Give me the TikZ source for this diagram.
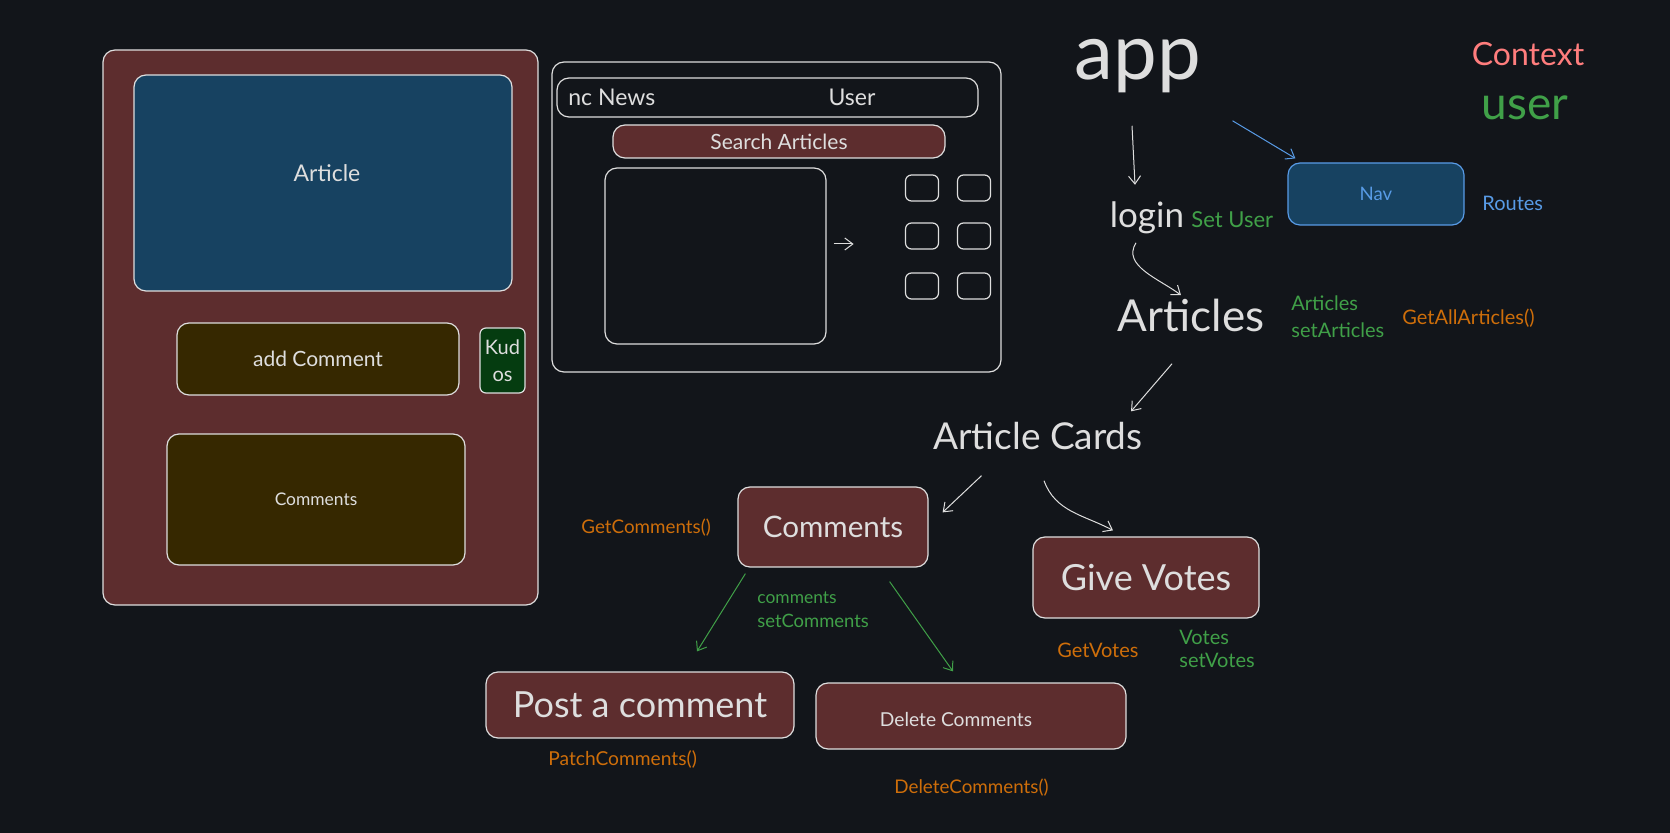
\documentclass[tikz,border=0pt]{standalone}
\usepackage{fontspec}
\setmainfont{Lato}
\usetikzlibrary{arrows.meta}

\definecolor{canvas}{RGB}{18,21,26}
\definecolor{chalk}{RGB}{222,222,222}
\definecolor{brick}{RGB}{93,45,46}
\definecolor{navy}{RGB}{23,66,97}
\definecolor{mud}{RGB}{54,40,0}
\definecolor{moss}{RGB}{5,60,16}
\definecolor{leaf}{RGB}{64,160,72}
\definecolor{amber}{RGB}{206,110,10}
\definecolor{sky}{RGB}{88,155,230}
\definecolor{salmon}{RGB}{255,125,125}

\newcommand{\fsz}[1]{\fontsize{#1}{#1}\selectfont}

\tikzset{
  box/.style={draw=chalk, line width=0.6pt, rounded corners=6pt, inner sep=0pt, text=chalk},
  txt/.style={text=chalk, inner sep=2pt},
  note/.style={text=leaf, anchor=west, inner sep=0pt, font=\fsz{10pt}},
  call/.style={text=amber, anchor=west, inner sep=0pt, font=\fsz{10pt}},
  arr/.style={draw=chalk, line width=0.5pt, -{Straight Barb[length=4pt,width=6pt]}},
  garr/.style={arr, draw=leaf},
  barr/.style={arr, draw=sky},
  tile/.style={box, rounded corners=3pt, minimum width=16.5pt, minimum height=13pt},
}

\begin{document}
\begin{tikzpicture}[x=0.5pt, y=0.5pt]
	\fill[canvas] (0,0) rectangle (1670,-833);
	\useasboundingbox (0,0) rectangle (1670,-833);
	
	% article page mock-up
	\node[box, fill=brick, minimum width=217.5pt, minimum height=277.5pt] (page) at (320.5,-327.5) {};
	\node[box, fill=navy, minimum width=189pt, minimum height=108pt] (article) at (323,-183) {};
	\node[txt, font=\fsz{11.5pt}] (articletext) at (327,-173) {Article};
	\node[box, fill=mud, minimum width=141pt, minimum height=36pt, font=\fsz{10.5pt}] (addcomment) at (318,-359) {add Comment};
	\node[box, fill=moss, rounded corners=3pt, minimum width=22.5pt, minimum height=32.5pt, align=center, font=\fontsize{10pt}{13.5pt}\selectfont] (kudos) at (502.5,-360.5) {Kud\\os};
	\node[box, fill=mud, minimum width=149pt, minimum height=65.5pt, font=\fsz{8.7pt}] (comlist) at (316,-499.5) {Comments};
	
	% home page mock-up
	\node[box, minimum width=224.5pt, minimum height=155pt] (frame) at (776.5,-217) {};
	\node[box, minimum width=210.5pt, minimum height=19.5pt] (header) at (767.5,-97.5) {};
	\node[txt, anchor=west, font=\fsz{11.5pt}] (brand) at (564,-97) {nc News};
	\node[txt, font=\fsz{11.5pt}] (user) at (852,-97) {User};
	\node[box, fill=brick, minimum width=166pt, minimum height=16.5pt, font=\fsz{10.5pt}] (search) at (779,-141.5) {Search Articles};
	\node[box, minimum width=110.5pt, minimum height=88pt] (preview) at (715.5,-256) {};
	\foreach \x in {922,974}{
		\foreach \y in {188,236,286}{
			\node[tile] (tile-\x-\y) at (\x,-\y) {};
		}
	}
	\coordinate (swipe) at ([shift={(27,12)}]preview.east);
	\draw[arr] ([shift={(7,12)}]preview.east) -- (swipe);
	
	% component tree
	\node[txt, anchor=base, font=\fsz{39pt}] (app) at (1138,-80) {app};
	\node[text=salmon, font=\fsz{16pt}] (context) at (1528,-54) {Context};
	\node[text=leaf, font=\fsz{23pt}] (ctxuser) at (1525,-108) {user};
	\node[box, draw=sky, fill=navy, text=sky, minimum width=88pt, minimum height=31pt, font=\fsz{9.3pt}] (nav) at (1376,-194) {Nav};
	\node[text=sky, anchor=west, inner sep=0pt, font=\fsz{10pt}] (routes) at (1482,-203) {Routes};
	\node[txt, anchor=base, font=\fsz{17.5pt}] (login) at (1147,-228) {login};
	\node[note, font=\fsz{11pt}] (setuser) at (1191,-220) {Set User};
	\node[txt, anchor=base, font=\fsz{22pt}] (articles) at (1191,-332) {Articles};
	\node[note] (artlist) at (1291,-303) {Articles};
	\node[note] (setart) at (1291,-330) {setArticles};
	\node[call] (getall) at (1402,-318) {GetAllArticles()};
	\node[txt, anchor=base, font=\fsz{18.5pt}] (cards) at (1038,-450) {Article Cards};
	\node[box, fill=brick, minimum width=95pt, minimum height=40pt, font=\fsz{14.8pt}] (comments) at (833,-527) {Comments};
	\node[box, fill=brick, minimum width=113pt, minimum height=40.5pt, font=\fsz{18pt}] (votes) at (1146,-577.5) {Give Votes};
	\node[box, fill=brick, minimum width=154pt, minimum height=33pt, font=\fsz{18pt}] (post) at (640,-705) {Post a comment};
	\node[box, fill=brick, minimum width=155pt, minimum height=33pt] (delete) at (971,-716) {};
	\node[txt, font=\fsz{9.6pt}] (deletetext) at (956,-720) {Delete Comments};
	\node[call, font=\fsz{9.4pt}] (getcom) at (581,-528) {GetComments()};
	\node[note, font=\fsz{8.7pt}] (comstate) at (757,-598) {comments};
	\node[note, font=\fsz{9.2pt}] (setcom) at (757,-621) {setComments};
	\node[call, font=\fsz{9.6pt}] (patch) at (548,-759) {PatchComments()};
	\node[call, font=\fsz{9.4pt}] (delcall) at (894,-788) {DeleteComments()};
	\node[call] (getvotes) at (1057,-650) {GetVotes};
	\node[note] (votestate) at (1179,-637) {Votes};
	\node[note] (setvotes) at (1179,-660) {setVotes};
	
	\draw[arr] ([shift={(-6,-28)}]app.south) -- ([shift={(-12,13)}]login.north);
	\draw[barr] ([shift={(27,-23)}]app.south east) -- ([shift={(8,4)}]nav.north west);
	\draw[arr] ([shift={(-11,-4)}]login.south) to[out=238,in=143] ([shift={(-10,0)}]articles.north);
	\draw[arr] ([shift={(-19,-27)}]articles.south) -- ([shift={(-16,7)}]cards.north east);
	\draw[arr] ([shift={(-56.5,-21)}]cards.south) -- ([shift={(14,-26)}]comments.north east);
	\draw[arr] ([shift={(6,-26)}]cards.south) to[out=-70,in=152] ([shift={(-33,6)}]votes.north);
	\draw[garr] ([shift={(8,-6)}]comments.south west) -- ([shift={(57,20)}]post.north);
	\draw[garr] ([shift={(-39,-14)}]comments.south east) -- ([shift={(-18,11)}]delete.north);
	
\end{tikzpicture}
\end{document}
